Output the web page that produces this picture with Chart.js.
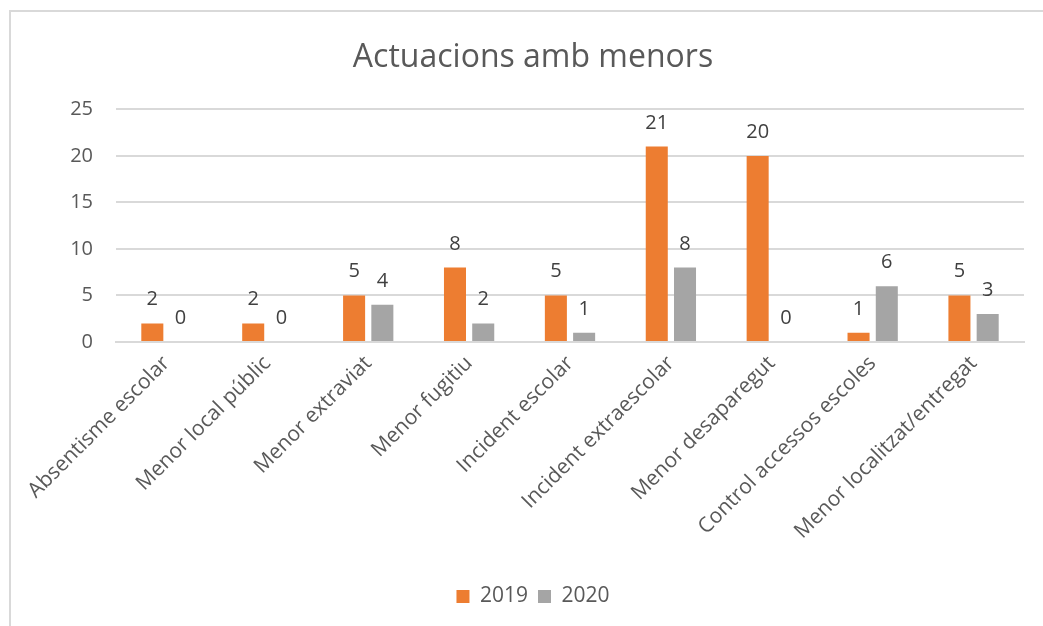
<!DOCTYPE html>
<html>
<head>
<meta charset="utf-8">
<script src="https://cdn.jsdelivr.net/npm/chart.js@4"></script>
<style>
  body { margin: 0; background: #fff; }
  #wrap { position: relative; width: 1043px; height: 626px; overflow: hidden; }
  #frame { position: absolute; left: 9px; top: 10px; width: 1100px; height: 700px; border: 2px solid #d9d9d9; box-sizing: border-box; }
  canvas { position: absolute; left: 0; top: 0; }
</style>
</head>
<body>
<div id="wrap">
  <div id="frame"></div>
  <!-- the chart box runs past the right edge, title and legend are centred on it -->
  <canvas id="actuacionsChart" width="1066" height="626"></canvas>
</div>
<script>
const categories = [
    "Absentisme escolar",
    "Menor local públic",
    "Menor extraviat",
    "Menor fugitiu",
    "Incident escolar",
    "Incident extraescolar",
    "Menor desaparegut",
    "Control accessos escoles",
    "Menor localitzat/entregat"
];
const values2019 = [2, 2, 5, 8, 5, 21, 20, 1, 5];
const values2020 = [0, 0, 4, 2, 1, 8, 0, 6, 3];
const yTicks = [0, 5, 10, 15, 20, 25];

const FONT = "'Open Sans', 'Noto Sans', sans-serif";

// numbers above each bar
const barLabels = {
    id: "barLabels",
    afterDatasetsDraw(chart) {
        const ctx = chart.ctx;
        ctx.save();
        ctx.font = "20px " + FONT;
        ctx.fillStyle = "#404040";
        ctx.textAlign = "center";
        ctx.textBaseline = "alphabetic";
        chart.data.datasets.forEach((ds, i) => {
            chart.getDatasetMeta(i).data.forEach((bar, j) => {
                ctx.fillText(String(ds.data[j]), bar.x, bar.y - 18);
            });
        });
        ctx.restore();
    }
};

new Chart("actuacionsChart", {
    type: "bar",
    data: {
        labels: categories,
        datasets: [{
            label: "2019",
            data: values2019,
            backgroundColor: "#ED7D31",
            categoryPercentage: 0.56,
            barPercentage: 0.78
        }, {
            label: "2020",
            data: values2020,
            backgroundColor: "#A5A5A5",
            categoryPercentage: 0.56,
            barPercentage: 0.78
        }]
    },
    options: {
        responsive: false,
        animation: false,
        layout: { padding: { left: 42, right: 42, top: 0, bottom: 9 } },
        plugins: {
            title: {
                display: true,
                text: "Actuacions amb menors",
                color: "#595959",
                font: { family: FONT, size: 32, weight: "normal" },
                padding: { top: 39, bottom: 32 }
            },
            legend: {
                position: "bottom",
                labels: {
                    color: "#595959",
                    font: { family: FONT, size: 21 },
                    boxWidth: 13,
                    boxHeight: 13,
                    padding: 10
                }
            },
            tooltip: { enabled: false }
        },
        scales: {
            x: {
                grid: { display: false },
                border: { display: true, color: "#d9d9d9", width: 2 },
                ticks: {
                    color: "#595959",
                    font: { family: FONT, size: 21 },
                    minRotation: 45,
                    maxRotation: 45,
                    padding: 1
                },
                afterFit(scale) { scale.height = 234; }
            },
            y: {
                min: 0,
                max: 25,
                afterBuildTicks(scale) { scale.ticks = yTicks.map(v => ({ value: v })); },
                grid: { color: "#d9d9d9", lineWidth: 2, drawTicks: false },
                border: { display: false },
                ticks: {
                    color: "#595959",
                    font: { family: FONT, size: 20 },
                    padding: 23
                },
                afterFit(scale) { scale.width = 74; }
            }
        }
    },
    plugins: [barLabels]
});
</script>
</body>
</html>
